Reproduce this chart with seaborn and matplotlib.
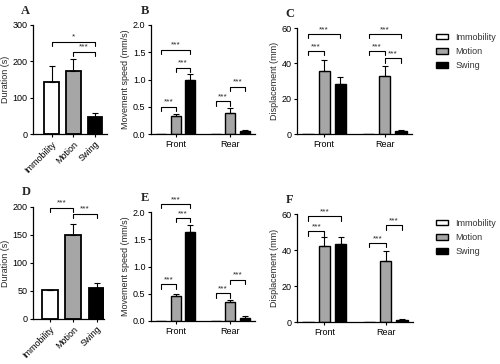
import numpy as np
import pandas as pd
import matplotlib
matplotlib.use("Agg")
import matplotlib.pyplot as plt
import seaborn as sns

sns.set_style("ticks")
plt.rcParams['font.family'] = ['Liberation Sans', 'DejaVu Sans']

# ---- data ----
categories = ["Immobility", "Motion", "Swing"]
limbs = ["Front", "Rear"]

A_duration = [143, 173, 47]
A_err = [43, 33, 10]

B_front = [0.0, 0.33, 1.00]
B_front_err = [0.0, 0.04, 0.10]
B_rear = [0.0, 0.39, 0.06]
B_rear_err = [0.0, 0.08, 0.02]

C_front = [0.0, 35.5, 28.5]
C_front_err = [0.0, 6.5, 3.5]
C_rear = [0.0, 33.0, 1.8]
C_rear_err = [0.0, 5.5, 0.3]

D_duration = [51, 150, 56]
D_err = [1.5, 20, 9]

E_front = [0.0, 0.45, 1.63]
E_front_err = [0.0, 0.05, 0.14]
E_rear = [0.0, 0.34, 0.06]
E_rear_err = [0.0, 0.05, 0.03]

F_front = [0.0, 42.0, 43.5]
F_front_err = [0.0, 5.5, 3.5]
F_rear = [0.0, 34.0, 1.0]
F_rear_err = [0.0, 5.5, 0.5]

# significance brackets: (group, i, j, y, label)
A_sig = [(0, 0, 2, 254, "*"), (0, 1, 2, 227, "***")]
B_sig = [(0, 0, 1, 0.50, "***"), (0, 0, 2, 1.55, "***"), (0, 1, 2, 1.22, "***"),
         (1, 0, 1, 0.60, "***"), (1, 1, 2, 0.87, "***")]
C_sig = [(0, 0, 1, 47, "***"), (0, 0, 2, 56.6, "***"),
         (1, 0, 1, 47, "***"), (1, 0, 2, 56.6, "***"), (1, 1, 2, 42.8, "***")]
D_sig = [(0, 0, 1, 199, "***"), (0, 1, 2, 188, "***")]
E_sig = [(0, 0, 2, 2.15, "***"), (0, 1, 2, 1.89, "***"), (0, 0, 1, 0.67, "***"),
         (1, 0, 1, 0.51, "***"), (1, 1, 2, 0.76, "***")]
F_sig = [(0, 0, 2, 58.7, "***"), (0, 0, 1, 50.4, "***"),
         (1, 0, 1, 43.9, "***"), (1, 1, 2, 53.7, "***")]

colors = {"Immobility": "white", "Motion": "#a6a6a6", "Swing": "black"}

FS = 6.5
fig = plt.figure(figsize=(5.0, 3.64), dpi=100)

def px_axes(x0, x1, ytop, ybot):
    W, H = 500, 364
    return fig.add_axes([x0 / W, 1 - ybot / H, (x1 - x0) / W, (ybot - ytop) / H])

def style(ax, ylabel, yticks, ylim):
    sns.despine(ax=ax)
    ax.set_ylim(*ylim)
    ax.set_yticks(yticks)
    ax.set_ylabel(ylabel, fontsize=FS, labelpad=2)
    ax.set_xlabel("")
    ax.tick_params(axis='both', labelsize=FS, length=2.5, width=0.8, pad=1.5, colors='black')
    for s in ("left", "bottom"):
        ax.spines[s].set_linewidth(0.9)
        ax.spines[s].set_color("black")

def bracket(ax, x1, x2, y, label, leg):
    ax.plot([x1, x1, x2, x2], [y - leg, y, y, y - leg], color="black", lw=0.8, clip_on=False)
    ax.text((x1 + x2) / 2, y + leg * 0.2, label, ha="center", va="bottom", fontsize=6,
            clip_on=False)

def single_panel(ax, values, errs, sig, ylabel, yticks, ylim, xlim, letter):
    df = pd.DataFrame({"cat": categories, "val": values})
    sns.barplot(data=df, x="cat", y="val", hue="cat", palette=colors, order=categories,
                hue_order=categories, dodge=False, legend=False, errorbar=None,
                edgecolor="black", linewidth=1.3, width=0.68, ax=ax)
    xs = [p.get_x() + p.get_width() / 2 for c in ax.containers for p in c]
    ax.errorbar(xs, values, yerr=[np.zeros(len(errs)), errs], fmt="none", ecolor="black",
                elinewidth=0.8, capsize=2, capthick=0.8)
    ax.set_xlim(*xlim)
    style(ax, ylabel, yticks, ylim)
    ax.set_xticks(range(len(categories)))
    ax.set_xticklabels(categories, rotation=45, ha="right", rotation_mode="anchor")
    leg = (ylim[1] - ylim[0]) * 0.04
    for g, i, j, y, lab in sig:
        bracket(ax, xs[i], xs[j], y, lab, leg)
    ax.text(-0.1, 1.13, letter, transform=ax.transAxes, fontsize=9, fontweight="bold",
            family="Liberation Serif", ha="center", va="center")

def group_panel(ax, front, front_err, rear, rear_err, sig, ylabel, yticks, ylim, letter, legend):
    rows = []
    for limb, vals in zip(limbs, [front, rear]):
        for c, v in zip(categories, vals):
            rows.append({"limb": limb, "cat": c, "val": v})
    df = pd.DataFrame(rows)
    sns.barplot(data=df, x="limb", y="val", hue="cat", palette=colors, order=limbs,
                hue_order=categories, errorbar=None, edgecolor="black", linewidth=1.0,
                width=0.8, gap=0.3, ax=ax, legend=legend)
    pos = [[None] * 3 for _ in limbs]
    for k, cont in enumerate(ax.containers):
        for g, p in enumerate(cont):
            pos[g][k] = p.get_x() + p.get_width() / 2
    for g, (vals, errs) in enumerate([(front, front_err), (rear, rear_err)]):
        for k in range(3):
            if errs[k] > 0:
                ax.errorbar(pos[g][k], vals[k], yerr=[[0], [errs[k]]], fmt="none",
                            ecolor="black", elinewidth=0.8, capsize=2, capthick=0.8)
    ax.set_xlim(-0.45, 1.45)
    style(ax, ylabel, yticks, ylim)
    leg = (ylim[1] - ylim[0]) * 0.04
    for g, i, j, y, lab in sig:
        bracket(ax, pos[g][i], pos[g][j], y, lab, leg)
    ax.text(-0.06, 1.13, letter, transform=ax.transAxes, fontsize=9, fontweight="bold",
            family="Liberation Serif", ha="center", va="center")
    return ax

# Panel A
axA = px_axes(33, 107, 25, 134)
single_panel(axA, A_duration, A_err, A_sig, "Duration (s)", [0, 100, 200, 300], (0, 300),
             (-0.85, 2.55), "A")

# Panel B
axB = px_axes(151, 255, 25, 134)
group_panel(axB, B_front, B_front_err, B_rear, B_rear_err, B_sig, "Movement speed (mm/s)",
            [0.0, 0.5, 1.0, 1.5, 2.0], (0, 2.0), "B", False)
axB.set_yticklabels(["0.0", "0.5", "1.0", "1.5", "2.0"])

# Panel C
axC = px_axes(297, 412, 28, 134)
group_panel(axC, C_front, C_front_err, C_rear, C_rear_err, C_sig, "Displacement (mm)",
            [0, 20, 40, 60], (0, 60), "C", True)

# Panel D
axD = px_axes(33, 104, 207, 319)
single_panel(axD, D_duration, D_err, D_sig, "Duration (s)", [0, 50, 100, 150, 200], (0, 200),
             (-0.7, 2.3), "D")

# Panel E
axE = px_axes(151, 255, 212, 321)
group_panel(axE, E_front, E_front_err, E_rear, E_rear_err, E_sig, "Movement speed (mm/s)",
            [0.0, 0.5, 1.0, 1.5, 2.0], (0, 2.0), "E", False)
axE.set_yticklabels(["0.0", "0.5", "1.0", "1.5", "2.0"])

# Panel F
axF = px_axes(297, 413, 214, 322)
group_panel(axF, F_front, F_front_err, F_rear, F_rear_err, F_sig, "Displacement (mm)",
            [0, 20, 40, 60], (0, 60), "F", True)

for ax, ytop in [(axC, 29), (axF, 215)]:
    lg = ax.legend(loc="upper left", bbox_to_anchor=(432 / 500, 1 - ytop / 364),
                   bbox_transform=fig.transFigure, frameon=False, fontsize=6.5,
                   handlelength=1.4, handleheight=0.6, handletextpad=0.8, labelspacing=0.6,
                   borderaxespad=0)
    for t in lg.get_texts():
        t.set_color("#333333")

fig.savefig("out.png", dpi=100)
